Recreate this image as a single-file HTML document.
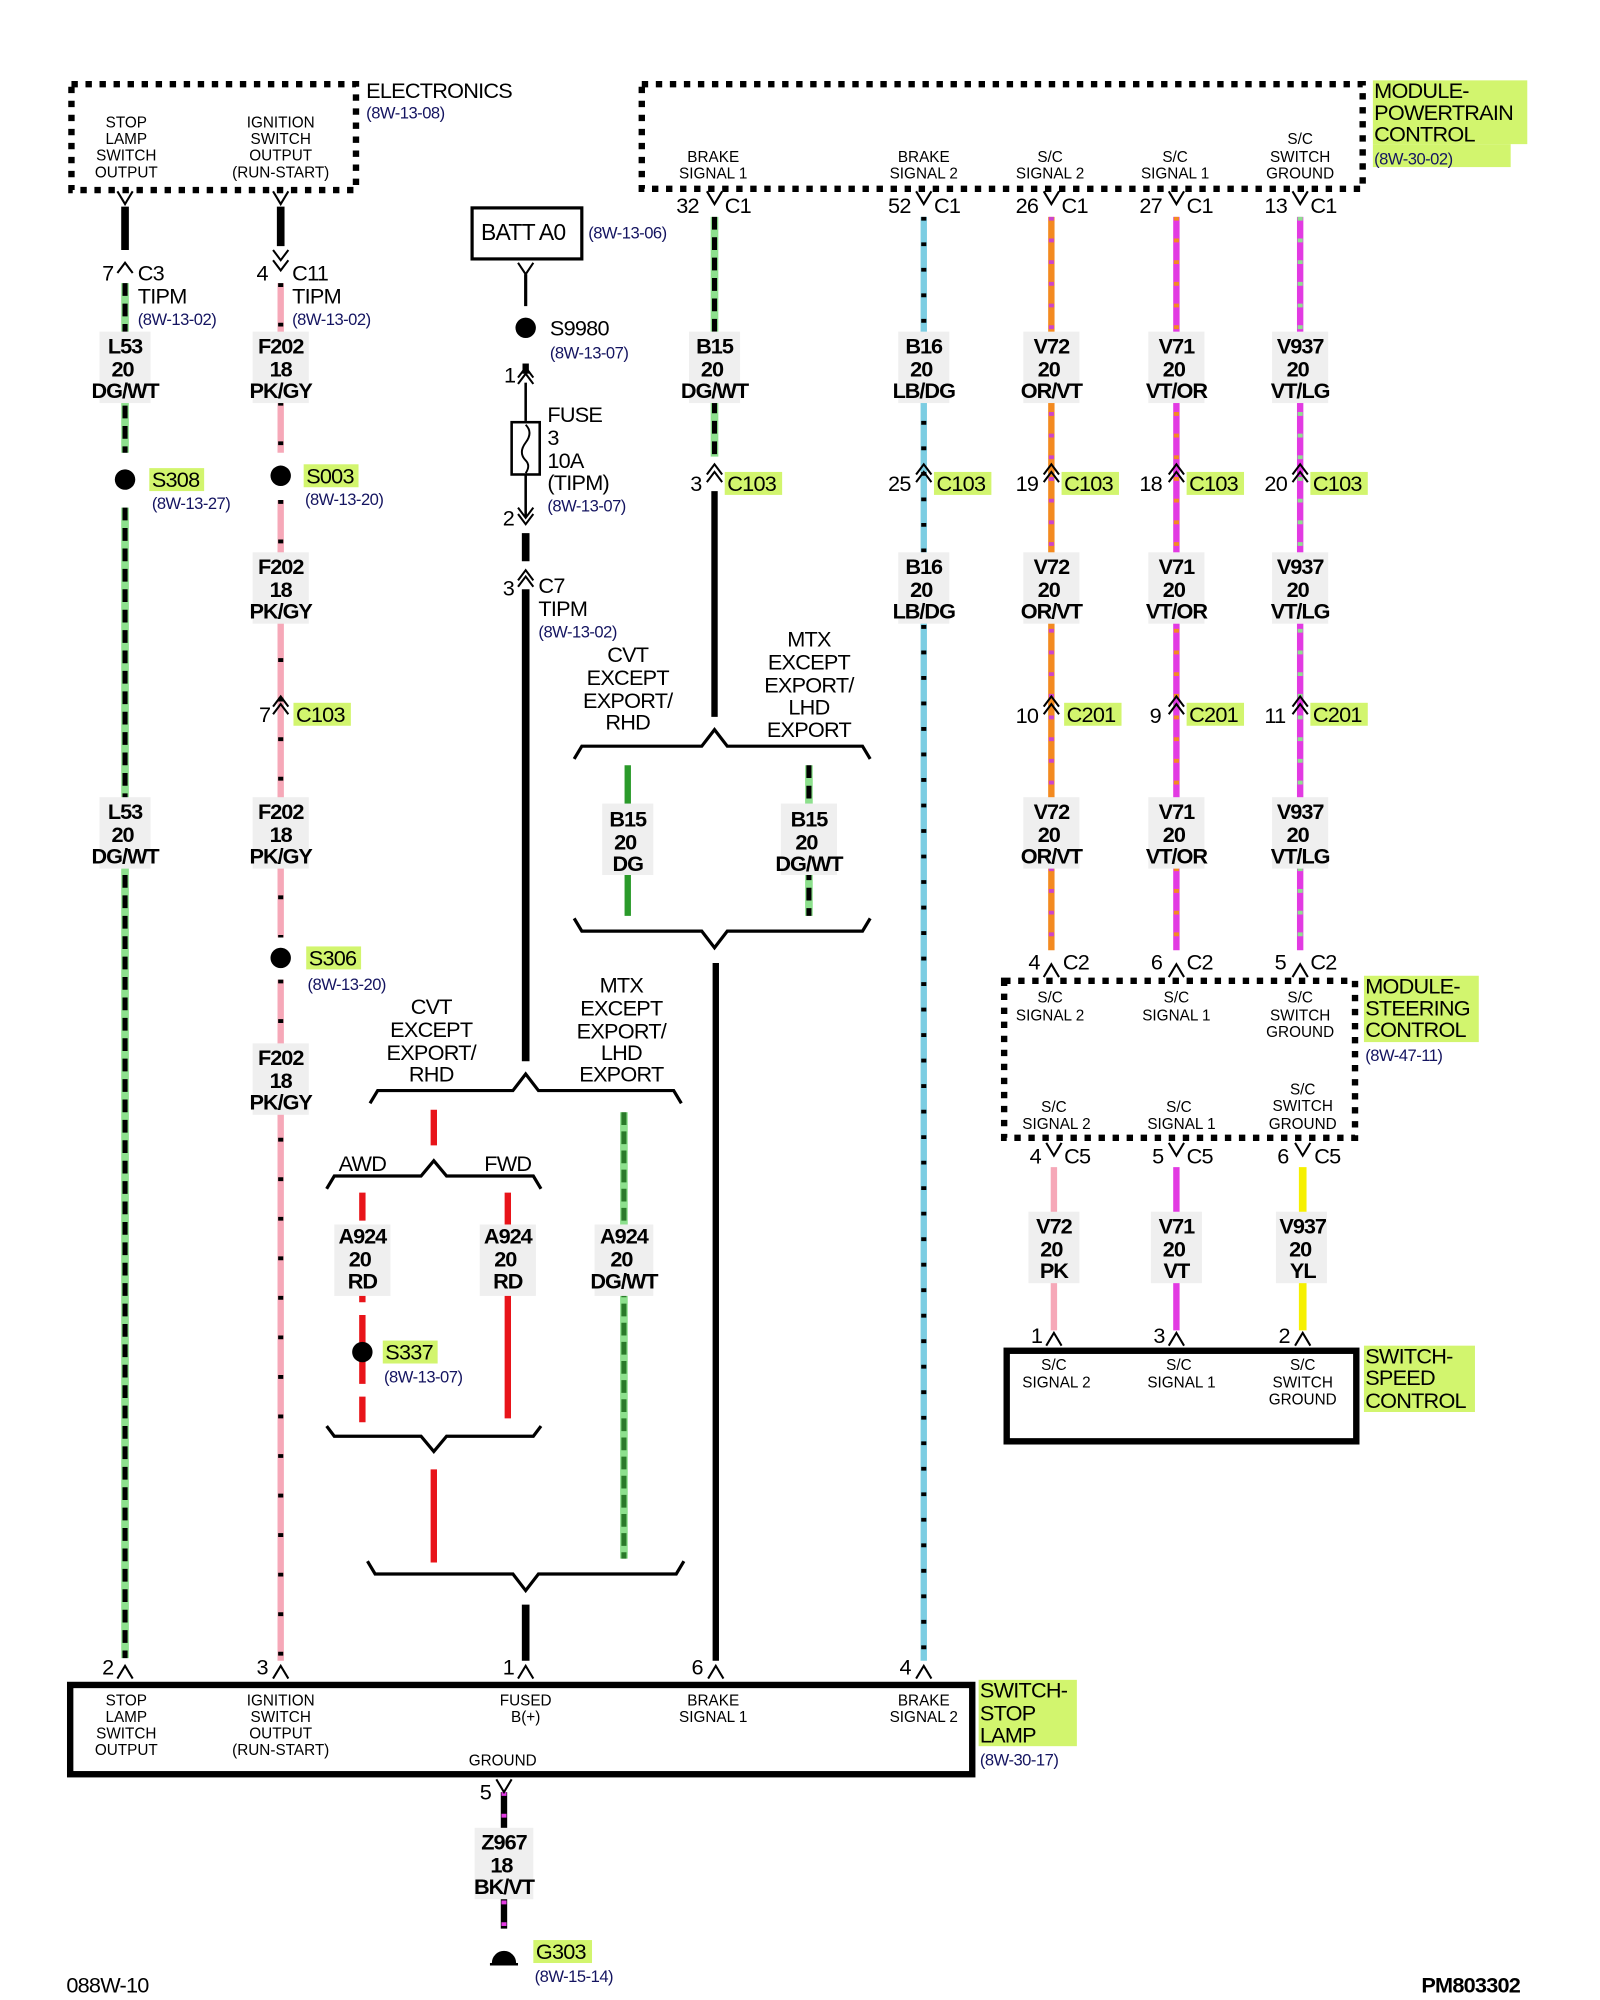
<!DOCTYPE html>
<html><head><meta charset="utf-8"><style>
html,body{margin:0;padding:0;background:#fff;}
svg{display:block}
text{font-family:"Liberation Sans",Arial,sans-serif;}
.s{font-size:12px;text-anchor:middle}
.m{font-size:17px;letter-spacing:-0.6px}
.w{font-size:17px;font-weight:bold;text-anchor:middle;letter-spacing:-0.8px}
.r{font-size:13px;fill:#141460;letter-spacing:-0.4px}
.b{font-size:17px;text-anchor:middle;letter-spacing:-0.6px}
</style></head><body>
<svg width="1600" height="2000" viewBox="0 0 1254 1568" preserveAspectRatio="none" xmlns="http://www.w3.org/2000/svg">
<rect width="1254" height="1568" fill="#fff"/>
<g fill="none" stroke-linecap="butt">
<rect x="56" y="66" width="223" height="83" stroke="#000" stroke-width="5" stroke-dasharray="5,6"/>
<rect x="503" y="66" width="565" height="82" stroke="#000" stroke-width="5" stroke-dasharray="5,6"/>
<rect x="787" y="769" width="275" height="123" stroke="#000" stroke-width="5" stroke-dasharray="5,6"/>
<rect x="789" y="1059" width="274" height="71" stroke="#000" stroke-width="5"/>
<rect x="55" y="1321" width="707" height="70" stroke="#000" stroke-width="5"/>
<rect x="370" y="163" width="86" height="40" stroke="#000" stroke-width="2.5"/>

<line x1="98" y1="162" x2="98" y2="196" stroke="#000" stroke-width="6"/>
<line x1="98" y1="222" x2="98" y2="355" stroke="#8de08d" stroke-width="6"/>
<line x1="98" y1="222" x2="98" y2="355" stroke="#000" stroke-width="4" stroke-dasharray="10,6"/>
<line x1="98" y1="398" x2="98" y2="1300" stroke="#8de08d" stroke-width="6"/>
<line x1="98" y1="398" x2="98" y2="1300" stroke="#000" stroke-width="4" stroke-dasharray="10,6"/>

<line x1="220" y1="162" x2="220" y2="193" stroke="#000" stroke-width="6"/>
<line x1="220" y1="222" x2="220" y2="355" stroke="#f6a8b8" stroke-width="5"/>
<line x1="220" y1="222" x2="220" y2="355" stroke="#000" stroke-width="4" stroke-dasharray="3,28"/>
<line x1="220" y1="392" x2="220" y2="735" stroke="#f6a8b8" stroke-width="5"/>
<line x1="220" y1="392" x2="220" y2="735" stroke="#000" stroke-width="4" stroke-dasharray="3,28"/>
<line x1="220" y1="768" x2="220" y2="1302" stroke="#f6a8b8" stroke-width="5"/>
<line x1="220" y1="768" x2="220" y2="1302" stroke="#000" stroke-width="4" stroke-dasharray="3,28"/>

<line x1="412" y1="215" x2="412" y2="240" stroke="#000" stroke-width="2.5"/>
<line x1="412" y1="285" x2="412" y2="293" stroke="#000" stroke-width="5"/>
<line x1="412" y1="300" x2="412" y2="330" stroke="#000" stroke-width="2"/>
<line x1="412" y1="372" x2="412" y2="405" stroke="#000" stroke-width="2"/>
<line x1="412" y1="418" x2="412" y2="440" stroke="#000" stroke-width="6"/>
<line x1="412" y1="462" x2="412" y2="832" stroke="#000" stroke-width="6"/>
<rect x="401" y="331" width="22" height="41" stroke="#000" stroke-width="2"/>
<path d="M412 333 q6 6 0 14 q-6 8 0 14 q4 4 0 10" stroke="#000" stroke-width="1.5"/>

<line x1="560" y1="170" x2="560" y2="358" stroke="#8de08d" stroke-width="6"/>
<line x1="560" y1="170" x2="560" y2="358" stroke="#000" stroke-width="4" stroke-dasharray="10,6"/>
<line x1="560" y1="385" x2="560" y2="562" stroke="#000" stroke-width="5"/>
<line x1="492" y1="600" x2="492" y2="718" stroke="#2a9a2a" stroke-width="5"/>
<line x1="634" y1="600" x2="634" y2="718" stroke="#8de08d" stroke-width="6"/>
<line x1="634" y1="600" x2="634" y2="718" stroke="#000" stroke-width="4" stroke-dasharray="10,6"/>
<line x1="561" y1="755" x2="561" y2="1302" stroke="#000" stroke-width="5"/>

<line x1="724" y1="170" x2="724" y2="1302" stroke="#7ccde2" stroke-width="5"/>
<line x1="724" y1="170" x2="724" y2="1302" stroke="#000" stroke-width="4" stroke-dasharray="3,17"/>

<line x1="824" y1="170" x2="824" y2="745" stroke="#f38a20" stroke-width="5"/>
<line x1="824" y1="170" x2="824" y2="745" stroke="#cc44cc" stroke-width="4" stroke-dasharray="3,14"/>
<line x1="922" y1="170" x2="922" y2="745" stroke="#e23ae2" stroke-width="5"/>
<line x1="922" y1="170" x2="922" y2="745" stroke="#f38a20" stroke-width="4" stroke-dasharray="3,14"/>
<line x1="1019" y1="170" x2="1019" y2="745" stroke="#e23ae2" stroke-width="5"/>
<line x1="1019" y1="170" x2="1019" y2="745" stroke="#8de08d" stroke-width="4" stroke-dasharray="3,14"/>
<line x1="826" y1="915" x2="826" y2="1043" stroke="#f6a8b8" stroke-width="5"/>
<line x1="922" y1="915" x2="922" y2="1043" stroke="#e23ae2" stroke-width="5"/>
<line x1="1021" y1="915" x2="1021" y2="1043" stroke="#f6f000" stroke-width="6"/>

<path d="M290 865 L296 855 L402 855 L412 842 L422 855 L528 855 L534 865" stroke="#000" stroke-width="2.5"/>
<path d="M450 595 L456 585 L550 585 L560 572 L570 585 L676 585 L682 595" stroke="#000" stroke-width="2.5"/>
<path d="M450 720 L456 730 L550 730 L560 743 L570 730 L676 730 L682 720" stroke="#000" stroke-width="2.5"/>
<line x1="340" y1="870" x2="340" y2="898" stroke="#e8141a" stroke-width="5"/>
<path d="M256 932 L262 922 L330 922 L340 910 L350 922 L418 922 L424 932" stroke="#000" stroke-width="2.5"/>
<line x1="284" y1="935" x2="284" y2="1115" stroke="#e8141a" stroke-width="5" stroke-dasharray="22,10"/>
<line x1="398" y1="935" x2="398" y2="1112" stroke="#e8141a" stroke-width="5"/>
<path d="M256 1118 L262 1126 L330 1126 L340 1138 L350 1126 L418 1126 L424 1118" stroke="#000" stroke-width="2.5"/>
<line x1="340" y1="1152" x2="340" y2="1225" stroke="#e8141a" stroke-width="5"/>
<line x1="489" y1="872" x2="489" y2="1222" stroke="#8de08d" stroke-width="6"/>
<line x1="489" y1="872" x2="489" y2="1222" stroke="#2a7a2a" stroke-width="4" stroke-dasharray="10,5"/>
<path d="M288 1224 L294 1234 L402 1234 L412 1247 L422 1234 L530 1234 L536 1224" stroke="#000" stroke-width="2.5"/>
<line x1="412" y1="1258" x2="412" y2="1302" stroke="#000" stroke-width="6"/>

<line x1="395" y1="1405" x2="395" y2="1512" stroke="#000" stroke-width="5"/>
<line x1="395" y1="1405" x2="395" y2="1512" stroke="#e23ae2" stroke-width="4" stroke-dasharray="3,14"/>
<path d="M386 1539 a9 9 0 0 1 18 0 z" fill="#000" stroke="#000" stroke-width="1"/>
<line x1="384" y1="1540" x2="406" y2="1540" stroke="#000" stroke-width="2"/>

<g stroke="#000" stroke-width="1.6">
<path d="M92 150 L98 160 L104 150"/><path d="M214 150 L220 160 L226 150"/>
<path d="M92 214 L98 206 L104 214"/><path d="M214 196 L220 204 L226 196 M214 204 L220 212 L226 204"/>
<path d="M406 206 L412 215 L418 206"/>
<path d="M406 301 L412 293 L418 301 M406 296 L412 288 L418 296"/>
<path d="M406 398 L412 406 L418 398 M406 403 L412 411 L418 403"/>
<path d="M406 460 L412 452 L418 460 M406 455 L412 447 L418 455"/>
<path d="M554 150 L560 160 L566 150"/><path d="M718 150 L724 160 L730 150"/><path d="M818 150 L824 160 L830 150"/><path d="M916 150 L922 160 L928 150"/><path d="M1013 150 L1019 160 L1025 150"/>
<path d="M554 378 L560 370 L566 378 M554 372 L560 364 L566 372"/>
<path d="M718 378 L724 370 L730 378 M718 372 L724 364 L730 372"/>
<path d="M818 378 L824 370 L830 378 M818 372 L824 364 L830 372"/>
<path d="M916 378 L922 370 L928 378 M916 372 L922 364 L928 372"/>
<path d="M1013 378 L1019 370 L1025 378 M1013 372 L1019 364 L1025 372"/>
<path d="M214 560 L220 552 L226 560 M214 554 L220 546 L226 554"/>
<path d="M818 560 L824 552 L830 560 M818 554 L824 546 L830 554"/>
<path d="M916 560 L922 552 L928 560 M916 554 L922 546 L928 554"/>
<path d="M1013 560 L1019 552 L1025 560 M1013 554 L1019 546 L1025 554"/>
<path d="M818 766 L824 756 L830 766"/><path d="M916 766 L922 756 L928 766"/><path d="M1013 766 L1019 756 L1025 766"/>
<path d="M820 896 L826 906 L832 896"/><path d="M916 896 L922 906 L928 896"/><path d="M1015 896 L1021 906 L1027 896"/>
<path d="M820 1055 L826 1045 L832 1055"/><path d="M916 1055 L922 1045 L928 1055"/><path d="M1015 1055 L1021 1045 L1027 1055"/>
<path d="M92 1316 L98 1306 L104 1316"/><path d="M214 1316 L220 1306 L226 1316"/><path d="M406 1316 L412 1306 L418 1316"/><path d="M555 1316 L561 1306 L567 1316"/><path d="M718 1316 L724 1306 L730 1316"/>
<path d="M389 1395 L395 1405 L401 1395"/>
</g>
</g>

<g fill="#000"><circle cx="98" cy="376" r="8"/><circle cx="220" cy="373" r="8"/><circle cx="412" cy="257" r="8"/><circle cx="220" cy="751" r="8"/><circle cx="284" cy="1060" r="8"/></g>

<g fill="#efefef">
<rect x="78" y="260" width="40" height="56"/><rect x="198" y="260" width="44" height="56"/>
<rect x="198" y="433" width="44" height="56"/><rect x="198" y="625" width="44" height="56"/><rect x="198" y="818" width="44" height="56"/>
<rect x="78" y="625" width="40" height="56"/>
<rect x="540" y="260" width="40" height="56"/><rect x="704" y="260" width="40" height="56"/><rect x="704" y="433" width="40" height="56"/>
<rect x="802" y="260" width="44" height="56"/><rect x="900" y="260" width="44" height="56"/><rect x="997" y="260" width="44" height="56"/>
<rect x="802" y="433" width="44" height="56"/><rect x="900" y="433" width="44" height="56"/><rect x="997" y="433" width="44" height="56"/>
<rect x="802" y="625" width="44" height="56"/><rect x="900" y="625" width="44" height="56"/><rect x="997" y="625" width="44" height="56"/>
<rect x="806" y="950" width="40" height="56"/><rect x="902" y="950" width="40" height="56"/><rect x="1000" y="950" width="40" height="56"/>
<rect x="472" y="630" width="40" height="56"/><rect x="612" y="630" width="44" height="56"/>
<rect x="262" y="960" width="44" height="56"/><rect x="376" y="960" width="44" height="56"/><rect x="466" y="960" width="46" height="56"/>
<rect x="372" y="1433" width="46" height="56"/>
</g>

<g fill="#d2f56e">
<rect x="117" y="367" width="43" height="18"/><rect x="238" y="364" width="43" height="18"/>
<rect x="568" y="370" width="45" height="18"/><rect x="732" y="370" width="45" height="18"/><rect x="832" y="370" width="45" height="18"/><rect x="930" y="370" width="45" height="18"/><rect x="1027" y="370" width="45" height="18"/>
<rect x="230" y="551" width="45" height="18"/><rect x="834" y="551" width="45" height="18"/><rect x="930" y="551" width="45" height="18"/><rect x="1027" y="551" width="45" height="18"/>
<rect x="240" y="742" width="43" height="18"/><rect x="300" y="1051" width="43" height="18"/><rect x="418" y="1521" width="46" height="18"/>
<rect x="1076" y="63" width="121" height="50"/><rect x="1076" y="113" width="108" height="18"/>
<rect x="1069" y="765" width="90" height="52"/>
<rect x="1069" y="1055" width="87" height="52"/>
<rect x="767" y="1317" width="77" height="52"/>
</g>

<g class="s">
<text x="99" y="100">STOP</text><text x="99" y="113">LAMP</text><text x="99" y="126">SWITCH</text><text x="99" y="139">OUTPUT</text>
<text x="220" y="100">IGNITION</text><text x="220" y="113">SWITCH</text><text x="220" y="126">OUTPUT</text><text x="220" y="139">(RUN-START)</text>
<text x="559" y="127">BRAKE</text><text x="559" y="140">SIGNAL 1</text>
<text x="724" y="127">BRAKE</text><text x="724" y="140">SIGNAL 2</text>
<text x="823" y="127">S/C</text><text x="823" y="140">SIGNAL 2</text>
<text x="921" y="127">S/C</text><text x="921" y="140">SIGNAL 1</text>
<text x="1019" y="113">S/C</text><text x="1019" y="127">SWITCH</text><text x="1019" y="140">GROUND</text>
<text x="823" y="786">S/C</text><text x="823" y="800">SIGNAL 2</text>
<text x="922" y="786">S/C</text><text x="922" y="800">SIGNAL 1</text>
<text x="1019" y="786">S/C</text><text x="1019" y="800">SWITCH</text><text x="1019" y="813">GROUND</text>
<text x="826" y="872">S/C</text><text x="828" y="885">SIGNAL 2</text>
<text x="924" y="872">S/C</text><text x="926" y="885">SIGNAL 1</text>
<text x="1021" y="858">S/C</text><text x="1021" y="871">SWITCH</text><text x="1021" y="885">GROUND</text>
<text x="826" y="1074">S/C</text><text x="828" y="1088">SIGNAL 2</text>
<text x="924" y="1074">S/C</text><text x="926" y="1088">SIGNAL 1</text>
<text x="1021" y="1074">S/C</text><text x="1021" y="1088">SWITCH</text><text x="1021" y="1101">GROUND</text>
<text x="99" y="1337">STOP</text><text x="99" y="1350">LAMP</text><text x="99" y="1363">SWITCH</text><text x="99" y="1376">OUTPUT</text>
<text x="220" y="1337">IGNITION</text><text x="220" y="1350">SWITCH</text><text x="220" y="1363">OUTPUT</text><text x="220" y="1376">(RUN-START)</text>
<text x="412" y="1337">FUSED</text><text x="412" y="1350">B(+)</text>
<text x="559" y="1337">BRAKE</text><text x="559" y="1350">SIGNAL 1</text>
<text x="724" y="1337">BRAKE</text><text x="724" y="1350">SIGNAL 2</text>
<text x="394" y="1384">GROUND</text>
</g>

<g class="w">
<text x="98" y="277">L53</text><text x="96" y="295">20</text><text x="98" y="312">DG/WT</text>
<text x="220" y="277">F202</text><text x="220" y="295">18</text><text x="220" y="312">PK/GY</text>
<text x="220" y="450">F202</text><text x="220" y="468">18</text><text x="220" y="485">PK/GY</text>
<text x="220" y="642">F202</text><text x="220" y="660">18</text><text x="220" y="677">PK/GY</text>
<text x="220" y="835">F202</text><text x="220" y="853">18</text><text x="220" y="870">PK/GY</text>
<text x="98" y="642">L53</text><text x="96" y="660">20</text><text x="98" y="677">DG/WT</text>
<text x="560" y="277">B15</text><text x="558" y="295">20</text><text x="560" y="312">DG/WT</text>
<text x="724" y="277">B16</text><text x="722" y="295">20</text><text x="724" y="312">LB/DG</text>
<text x="724" y="450">B16</text><text x="722" y="468">20</text><text x="724" y="485">LB/DG</text>
<text x="824" y="277">V72</text><text x="822" y="295">20</text><text x="824" y="312">OR/VT</text>
<text x="922" y="277">V71</text><text x="920" y="295">20</text><text x="922" y="312">VT/OR</text>
<text x="1019" y="277">V937</text><text x="1017" y="295">20</text><text x="1019" y="312">VT/LG</text>
<text x="824" y="450">V72</text><text x="822" y="468">20</text><text x="824" y="485">OR/VT</text>
<text x="922" y="450">V71</text><text x="920" y="468">20</text><text x="922" y="485">VT/OR</text>
<text x="1019" y="450">V937</text><text x="1017" y="468">20</text><text x="1019" y="485">VT/LG</text>
<text x="824" y="642">V72</text><text x="822" y="660">20</text><text x="824" y="677">OR/VT</text>
<text x="922" y="642">V71</text><text x="920" y="660">20</text><text x="922" y="677">VT/OR</text>
<text x="1019" y="642">V937</text><text x="1017" y="660">20</text><text x="1019" y="677">VT/LG</text>
<text x="826" y="967">V72</text><text x="824" y="985">20</text><text x="826" y="1002">PK</text>
<text x="922" y="967">V71</text><text x="920" y="985">20</text><text x="922" y="1002">VT</text>
<text x="1021" y="967">V937</text><text x="1019" y="985">20</text><text x="1021" y="1002">YL</text>
<text x="492" y="648">B15</text><text x="490" y="666">20</text><text x="492" y="683">DG</text>
<text x="634" y="648">B15</text><text x="632" y="666">20</text><text x="634" y="683">DG/WT</text>
<text x="284" y="975">A924</text><text x="282" y="993">20</text><text x="284" y="1010">RD</text>
<text x="398" y="975">A924</text><text x="396" y="993">20</text><text x="398" y="1010">RD</text>
<text x="489" y="975">A924</text><text x="487" y="993">20</text><text x="489" y="1010">DG/WT</text>
<text x="395" y="1450">Z967</text><text x="393" y="1468">18</text><text x="395" y="1485">BK/VT</text>
</g>

<g class="b">
<text x="492" y="519">CVT</text><text x="492" y="537">EXCEPT</text><text x="492" y="555">EXPORT/</text><text x="492" y="572">RHD</text>
<text x="634" y="507">MTX</text><text x="634" y="525">EXCEPT</text><text x="634" y="543">EXPORT/</text><text x="634" y="560">LHD</text><text x="634" y="578">EXPORT</text>
<text x="338" y="795">CVT</text><text x="338" y="813">EXCEPT</text><text x="338" y="831">EXPORT/</text><text x="338" y="848">RHD</text>
<text x="487" y="778">MTX</text><text x="487" y="796">EXCEPT</text><text x="487" y="814">EXPORT/</text><text x="487" y="831">LHD</text><text x="487" y="848">EXPORT</text>
<text x="284" y="918">AWD</text><text x="398" y="918">FWD</text>
</g>

<g class="m">
<text x="287" y="77">ELECTRONICS</text>
<text x="377" y="188" style="font-size:18px">BATT A0</text>
<text x="80" y="220">7</text><text x="108" y="220">C3</text><text x="108" y="238">TIPM</text>
<text x="201" y="220">4</text><text x="229" y="220">C11</text><text x="229" y="238">TIPM</text>
<text x="431" y="263">S9980</text>
<text x="395" y="300">1</text><text x="429" y="331">FUSE</text><text x="429" y="349">3</text><text x="429" y="367">10A</text><text x="429" y="384">(TIPM)</text>
<text x="394" y="412">2</text>
<text x="394" y="467">3</text><text x="422" y="465">C7</text><text x="422" y="483">TIPM</text>
<text x="530" y="167">32</text><text x="568" y="167">C1</text>
<text x="696" y="167">52</text><text x="732" y="167">C1</text>
<text x="796" y="167">26</text><text x="832" y="167">C1</text>
<text x="893" y="167">27</text><text x="930" y="167">C1</text>
<text x="991" y="167">13</text><text x="1027" y="167">C1</text>
<text x="541" y="385">3</text><text x="696" y="385">25</text><text x="796" y="385">19</text><text x="893" y="385">18</text><text x="991" y="385">20</text>
<text x="203" y="566">7</text><text x="796" y="567">10</text><text x="901" y="567">9</text><text x="991" y="567">11</text>
<text x="806" y="760">4</text><text x="833" y="760">C2</text><text x="902" y="760">6</text><text x="930" y="760">C2</text><text x="999" y="760">5</text><text x="1027" y="760">C2</text>
<text x="807" y="912">4</text><text x="834" y="912">C5</text><text x="903" y="912">5</text><text x="930" y="912">C5</text><text x="1001" y="912">6</text><text x="1030" y="912">C5</text>
<text x="808" y="1053">1</text><text x="904" y="1053">3</text><text x="1002" y="1053">2</text>
<text x="80" y="1313">2</text><text x="201" y="1313">3</text><text x="394" y="1313">1</text><text x="542" y="1313">6</text><text x="705" y="1313">4</text>
<text x="376" y="1411">5</text>
<text x="119" y="382">S308</text><text x="240" y="379">S003</text>
<text x="570" y="385">C103</text><text x="734" y="385">C103</text><text x="834" y="385">C103</text><text x="932" y="385">C103</text><text x="1029" y="385">C103</text>
<text x="232" y="566">C103</text><text x="836" y="566">C201</text><text x="932" y="566">C201</text><text x="1029" y="566">C201</text>
<text x="242" y="757">S306</text><text x="302" y="1066">S337</text><text x="420" y="1536">G303</text>
<text x="1077" y="77">MODULE-</text><text x="1077" y="94">POWERTRAIN</text><text x="1077" y="111">CONTROL</text>
<text x="1070" y="779">MODULE-</text><text x="1070" y="796">STEERING</text><text x="1070" y="813">CONTROL</text>
<text x="1070" y="1069">SWITCH-</text><text x="1070" y="1086">SPEED</text><text x="1070" y="1104">CONTROL</text>
<text x="768" y="1331">SWITCH-</text><text x="768" y="1349">STOP</text><text x="768" y="1366">LAMP</text>
<text x="52" y="1562">088W-10</text><text x="1114" y="1562" style="font-weight:bold">PM803302</text>
</g>
<g class="r">
<text x="287" y="93">(8W-13-08)</text>
<text x="461" y="187">(8W-13-06)</text>
<text x="108" y="255">(8W-13-02)</text><text x="229" y="255">(8W-13-02)</text>
<text x="431" y="281">(8W-13-07)</text><text x="429" y="401">(8W-13-07)</text>
<text x="422" y="500">(8W-13-02)</text>
<text x="119" y="399">(8W-13-27)</text><text x="239" y="396">(8W-13-20)</text>
<text x="241" y="776">(8W-13-20)</text><text x="301" y="1084">(8W-13-07)</text>
<text x="1077" y="129">(8W-30-02)</text><text x="1070" y="832">(8W-47-11)</text>
<text x="768" y="1384">(8W-30-17)</text><text x="419" y="1554">(8W-15-14)</text>
</g>
</svg>
</body></html>
